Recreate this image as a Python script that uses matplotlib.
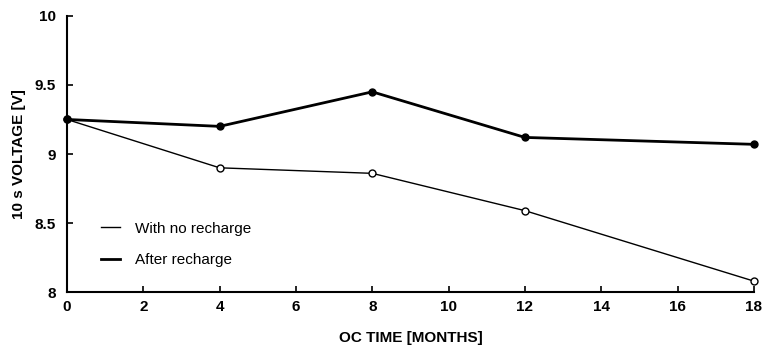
import matplotlib
matplotlib.use('Agg')
import matplotlib.pyplot as plt

plt.rcParams['font.family'] = ['Liberation Sans', 'DejaVu Sans']

months = [0, 4, 8, 12, 18]
no_recharge = [9.25, 8.90, 8.86, 8.59, 8.08]
after_recharge = [9.25, 9.20, 9.45, 9.12, 9.07]
x_ticks = [0, 2, 4, 6, 8, 10, 12, 14, 16, 18]
y_ticks = [8, 8.5, 9, 9.5, 10]
y_tick_labels = ['8', '8.5', '9', '9.5', '10']

fig = plt.figure(figsize=(7.64, 3.52), dpi=100)
ax = fig.add_axes([0.0877, 0.170, 0.899, 0.785])

ax.plot(months, no_recharge, color='black', linewidth=1.0, marker='o',
        markersize=5, markerfacecolor='white', markeredgecolor='black',
        markeredgewidth=1.0, label='With no recharge', clip_on=False, zorder=3)
ax.plot(months, after_recharge, color='black', linewidth=2.0, marker='o',
        markersize=5, markerfacecolor='black', markeredgecolor='black',
        label='After recharge', clip_on=False, zorder=3)

ax.set_xlim(0, 18)
ax.set_ylim(8, 10)
ax.set_xticks(x_ticks)
ax.set_xticklabels([str(t) for t in x_ticks], fontsize=11, fontweight='bold')
ax.set_yticks(y_ticks)
ax.set_yticklabels(y_tick_labels, fontsize=11, fontweight='bold')
ax.tick_params(direction='in', length=4, width=1.2)
ax.tick_params(axis='y', pad=8)
ax.tick_params(axis='x', pad=6)

for s in ['top', 'right']:
    ax.spines[s].set_visible(False)
for s in ['left', 'bottom']:
    ax.spines[s].set_linewidth(1.5)

ax.set_xlabel('OC TIME [MONTHS]', fontsize=11, fontweight='bold', labelpad=12)
ax.set_ylabel('10 s VOLTAGE [V]', fontsize=11, fontweight='bold', labelpad=6)

leg = ax.legend(loc='lower left', bbox_to_anchor=(0.03, 0.04), frameon=False,
                handlelength=1.2, handletextpad=1.0, labelspacing=1.15,
                fontsize=11)
for h in leg.legend_handles:
    h.set_marker('')

fig.savefig('out.png', dpi=100)
